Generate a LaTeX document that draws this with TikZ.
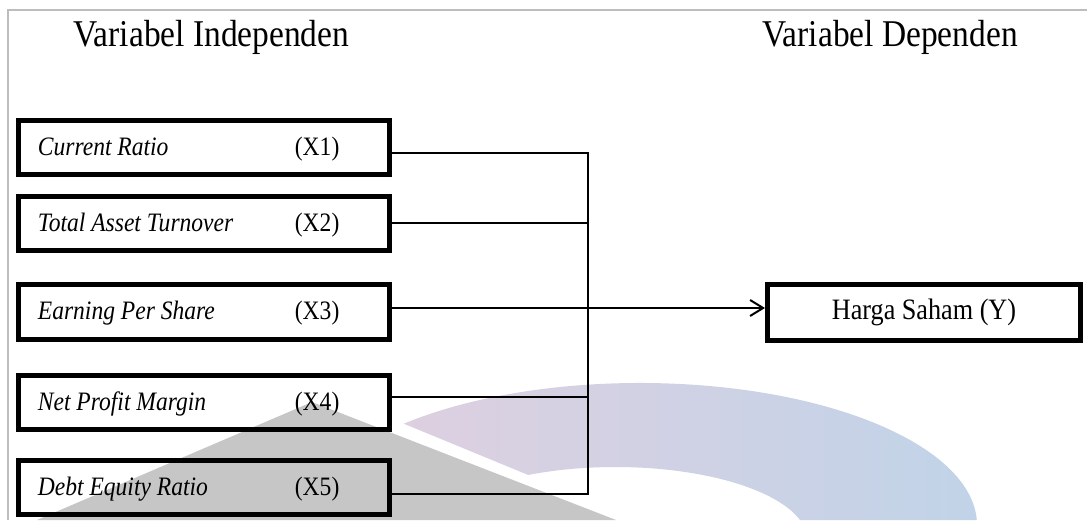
\documentclass[tikz,border=0pt]{standalone}
\usepackage{fontspec}
\setmainfont{Liberation Serif}
\usepackage{graphicx}
\usetikzlibrary{arrows.meta}
\definecolor{wmgray}{HTML}{C6C6C6}
\definecolor{wmpink}{HTML}{DDD0E0}
\definecolor{wmblue}{HTML}{C1D3E8}
\definecolor{framegray}{HTML}{BDBDBD}
\newcommand{\narrowtxt}[1]{\scalebox{0.885}[1]{#1}}
\begin{document}
\begin{tikzpicture}[x=0.5pt,y=0.5pt,
  varbox/.style={draw=black,line width=2.5pt,minimum width=185.5pt,minimum height=27pt,inner sep=0pt},
  ybox/.style={draw=black,line width=2.5pt,minimum width=156.5pt,minimum height=28pt,inner sep=0pt,font=\fontsize{14.8}{17}\selectfont},
  boxtext/.style={anchor=base west,inner sep=0pt,font=\fontsize{13.3}{16}\selectfont},
  title/.style={anchor=base west,inner sep=0pt,font=\fontsize{18.9}{22}\selectfont},
  conn/.style={line width=1pt,black},
]
\useasboundingbox (0,0) rectangle (1087,520);
\fill[white] (0,0) rectangle (1087,520);
\draw[framegray,line width=0.75pt] (8,0) -- (8,510) -- (1087,510);
% watermark
\fill[wmgray] (37,0) -- (312,118) -- (616,0) -- cycle;
\shade[left color=wmpink,middle color=wmblue,right color=wmblue]
  (403.8,96.3) arc[start angle=134.5,end angle=2,x radius=337,y radius=142]
  -- (800,0) arc[start angle=15.9,end angle=117,x radius=192,y radius=73] -- cycle;
% titles
\node[title] (t1) at (73,473) {\narrowtxt{Variabel Independen}};
\node[title] (t2) at (762,473) {\narrowtxt{Variabel Dependen}};
% boxes
\foreach \i/\yc/\nm in {1/372.5/Current Ratio, 2/296.5/Total Asset Turnover, 3/208/Earning Per Share, 4/117.5/Net Profit Margin, 5/32.5/Debt Equity Ratio} {
  \node[varbox] (b\i) at (204,\yc) {};
  \node[boxtext] (n\i) at ([xshift=10.75pt,yshift=-4pt]b\i.west) {\narrowtxt{\textit{\nm}}};
  \node[boxtext] (x\i) at ([xshift=139.25pt,yshift=-4pt]b\i.west) {\narrowtxt{(X\i)}};
}
\node[ybox] (yb) at (924,207.5) {\narrowtxt{Harga Saham (Y)}};
% junctions
\coordinate (j1) at (588,367);
\coordinate (j2) at (588,297);
\coordinate (j3) at (588,212);
\coordinate (j4) at (588,123);
\coordinate (j5) at (588,26);
\draw[conn] (b1.east |- j1) -- (j1) -- (j5) -- (b5.east |- j5);
\draw[conn] (b2.east |- j2) -- (j2);
\draw[conn] (b4.east |- j4) -- (j4);
\draw[conn,-{Straight Barb[length=6.5pt,width=8pt]}] (b3.east |- j3) -- (yb.west |- j3);
\end{tikzpicture}
\end{document}
